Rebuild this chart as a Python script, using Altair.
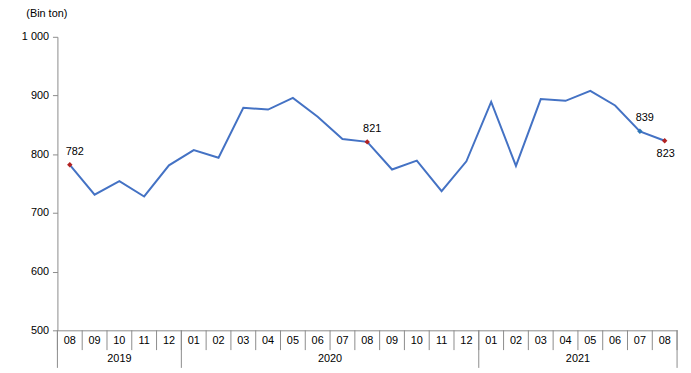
import altair as alt
import pandas as pd

years = ["2019"] * 5 + ["2020"] * 12 + ["2021"] * 8
months = ["08", "09", "10", "11", "12",
          "01", "02", "03", "04", "05", "06", "07", "08", "09", "10", "11", "12",
          "01", "02", "03", "04", "05", "06", "07", "08"]
values = [782, 731, 754, 728, 781,
          807, 794, 879, 876, 896, 864, 826, 821, 774, 789, 737, 788,
          889, 780, 894, 891, 908, 883, 839, 823]

# highlighted points
hl_index = [0, 12, 23, 24]
hl_kind = ["red", "red", "blue", "red"]
hl_place = ["above", "above", "above", "below"]

W, H = 627, 297
AXIS_GRAY = "#8c8c8c"
FONT = "Liberation Sans"

df = pd.DataFrame({"i": list(range(len(values))), "year": years, "month": months, "value": values})
hl = pd.DataFrame({
    "i": hl_index,
    "value": [values[k] for k in hl_index],
    "kind": hl_kind,
    "place": hl_place,
})
hl["label"] = hl["value"].astype(str)

# month separators (band boundaries) and year boundaries
sep = pd.DataFrame({"b": [k - 0.5 for k in range(len(values) + 1)]})
year_starts = [k for k in range(len(years)) if k == 0 or years[k] != years[k - 1]]
ysep = pd.DataFrame({"b": [k - 0.5 for k in year_starts] + [len(years) - 0.5]})
yl = df.groupby("year", as_index=False)["i"].mean()

xscale = alt.Scale(domain=[-0.5, len(values) - 0.5], nice=False, zero=False)
yscale = alt.Scale(domain=[500, 1000], nice=False, zero=False)

x_axis = alt.Axis(values=[], labels=False, ticks=False, grid=False,
                  domainColor=AXIS_GRAY, title=None)
y_axis = alt.Axis(values=[500, 600, 700, 800, 900, 1000],
                  labelExpr="replace(format(datum.value, ','), ',', ' ')",
                  grid=False, domainColor=AXIS_GRAY, tickColor=AXIS_GRAY, tickSize=5,
                  labelFont=FONT, labelFontSize=11, labelColor="#000000", labelPadding=4,
                  labelOverlap=False,
                  title="(Bin ton)", titleAngle=0, titleAlign="left", titleBaseline="middle",
                  titleFont=FONT, titleFontSize=11, titleFontWeight="normal", titleColor="#000000",
                  titleX=-32, titleY=-24)

base = alt.Chart(df)

line = base.mark_line(color="#4472C4", strokeWidth=2).encode(
    x=alt.X("i:Q", scale=xscale, axis=x_axis),
    y=alt.Y("value:Q", scale=yscale, axis=y_axis),
)

mlab = base.mark_text(font=FONT, fontSize=11, color="#000000", baseline="middle").encode(
    x=alt.X("i:Q", scale=xscale), y=alt.value(H + 11), text="month:N")

pts = alt.Chart(hl).mark_point(shape="diamond", filled=True, size=30, opacity=1).encode(
    x=alt.X("i:Q", scale=xscale),
    y=alt.Y("value:Q", scale=yscale),
    color=alt.Color("kind:N", scale=alt.Scale(domain=["red", "blue"], range=["#B22222", "#2E75B6"]), legend=None),
)

lab_above = alt.Chart(hl).transform_filter("datum.place == 'above'").mark_text(
    dx=5, dy=-13, font=FONT, fontSize=11, color="#000000", baseline="middle").encode(
    x=alt.X("i:Q", scale=xscale), y=alt.Y("value:Q", scale=yscale), text="label:N")

lab_below = alt.Chart(hl).transform_filter("datum.place == 'below'").mark_text(
    dx=1, dy=13, font=FONT, fontSize=11, color="#000000", baseline="middle").encode(
    x=alt.X("i:Q", scale=xscale), y=alt.Y("value:Q", scale=yscale), text="label:N")

seps = alt.Chart(sep).mark_rule(color=AXIS_GRAY, strokeWidth=1).encode(
    x=alt.X("b:Q", scale=xscale), y=alt.value(H), y2=alt.value(H + 20))

ysepr = alt.Chart(ysep).mark_rule(color=AXIS_GRAY, strokeWidth=1).encode(
    x=alt.X("b:Q", scale=xscale), y=alt.value(H), y2=alt.value(H + 38))

ylab = alt.Chart(yl).mark_text(font=FONT, fontSize=11, color="#000000", baseline="middle").encode(
    x=alt.X("i:Q", scale=xscale), y=alt.value(H + 29), text="year:N")

chart = alt.layer(line, mlab, seps, ysepr, ylab, pts, lab_above, lab_below).properties(
    width=W, height=H, padding={"left": 13, "top": -3, "right": 5, "bottom": 0},
    background="#ffffff"
).configure_view(strokeWidth=0, stroke="transparent")

chart.save("out.html", embed_options={"renderer": "svg", "actions": False})
